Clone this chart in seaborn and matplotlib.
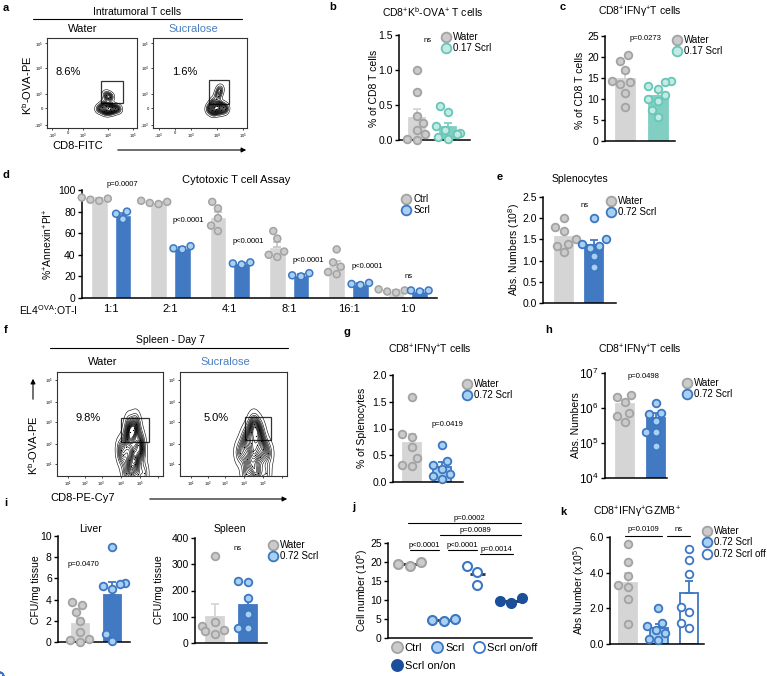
import warnings
import numpy as np
import pandas as pd
import seaborn as sns
import matplotlib.pyplot as plt
from matplotlib.lines import Line2D
from matplotlib.patches import Rectangle, FancyArrowPatch
from matplotlib.ticker import NullLocator

warnings.filterwarnings('ignore')

# ---------------- data ----------------
# b: CD8+Kb-OVA+ T cells (% of CD8 T cells)
b_groups = ['Water', '0.17 Scrl']
b_water = [1.0, 0.68, 0.35, 0.25, 0.15, 0.08, 0.02, 0.0]
b_scrl = [0.48, 0.40, 0.20, 0.15, 0.10, 0.08, 0.05, 0.02]

# c: CD8+IFNg+ T cells (% of CD8 T cells)
c_water = [20.5, 19.0, 17.0, 14.2, 14.0, 13.5, 11.5, 8.0]
c_scrl = [14.2, 14.0, 13.0, 12.5, 11.0, 10.0, 9.5, 7.5, 5.8]

# d: cytotoxic T cell assay
d_ratios = ['1:1', '2:1', '4:1', '8:1', '16:1', '1:0']
d_ctrl = [[93, 92, 91, 90], [90, 89, 88, 87], [89, 83, 74, 67, 62],
          [62, 55, 43, 40, 38], [45, 33, 29, 24, 22], [8, 7, 6, 5]]
d_scrl = [[80, 78, 73], [48, 46, 45], [33, 32, 31],
          [23, 21, 20], [14, 13, 12], [7, 7, 6]]
d_pvals = ['p=0.0007', 'p<0.0001', 'p<0.0001', 'p<0.0001', 'p<0.0001', 'ns']

# e: splenocytes (10^8)
e_groups = ['Water', '0.72 Scrl']
e_water = [2.0, 1.8, 1.7, 1.5, 1.4, 1.35, 1.2]
e_scrl = [2.0, 1.5, 1.4, 1.35, 1.3, 1.1, 0.85]

# g: % of splenocytes
g_water = [1.58, 0.9, 0.85, 0.65, 0.45, 0.32, 0.3]
g_scrl = [0.7, 0.4, 0.32, 0.25, 0.15, 0.12, 0.05]

# h: abs numbers (log axis)
h_water = [2.4e6, 2.1e6, 1.5e6, 7.2e5, 5.8e5, 4.1e5]
h_scrl = [1.4e6, 7.2e5, 6.6e5, 4.2e5, 2.1e5, 2.1e5, 8e4]

# i: CFU/mg tissue
i_liver_water = [3.8, 3.5, 2.8, 2.0, 0.9, 0.3, 0.2, 0.0]
i_liver_scrl = [9.0, 5.6, 5.5, 5.3, 5.0, 0.8, 0.1]
i_spleen_water = [330, 80, 65, 50, 45, 35]
i_spleen_scrl = [235, 232, 170, 110, 58, 58]

# j: cell number (10^5)
j_groups = ['Ctrl', 'Scrl', 'Scrl on/off', 'Scrl on/on']
j_vals = [[20.0, 19.5, 19.0], [5.0, 4.8, 4.6], [19.0, 17.5, 14.0], [10.5, 9.8, 9.3]]

# k: CD8+IFNg+GZMB+ abs number (x10^5)
k_groups = ['Water', '0.72 Scrl', '0.72 Scrl off']
k_water = [5.6, 4.6, 3.8, 3.3, 3.2, 2.5, 1.1]
k_scrl = [2.0, 1.2, 1.0, 0.8, 0.6, 0.3, 0.2]
k_off = [5.3, 4.7, 3.9, 2.1, 1.8, 1.2, 0.9]

# flow cytometry events (display units 0-100)
a_water_x = [58, 61, 63, 65, 66, 68, 69, 70, 72, 74, 76, 79, 64, 67, 71, 68, 66, 70]
a_water_y = [21, 23, 19, 24, 20, 22, 25, 21, 23, 20, 22, 21, 26, 18, 19, 33, 37, 35]
a_scrl_x = [60, 63, 65, 67, 68, 70, 72, 74, 77, 66, 70, 69, 71, 64]
a_scrl_y = [22, 20, 23, 21, 24, 22, 20, 23, 21, 19, 25, 36, 42, 28]
f_water_x = [62, 65, 68, 70, 72, 74, 76, 78, 80, 66, 70, 74, 78, 69, 73, 68, 72, 75, 65, 70, 76, 82, 60]
f_water_y = [20, 28, 15, 33, 24, 18, 30, 22, 26, 36, 10, 12, 35, 42, 46, 48, 44, 50, 3, 2, 2, 3, 25]
f_scrl_x = [56, 60, 63, 66, 68, 70, 72, 75, 78, 82, 62, 67, 71, 76, 66, 70, 74, 69, 73, 62, 70, 80]
f_scrl_y = [22, 28, 16, 32, 24, 20, 30, 18, 26, 22, 36, 10, 38, 34, 42, 47, 44, 50, 3, 2, 2, 3]

# ---------------- style ----------------
sns.set_style('ticks')
plt.rcParams.update({
    'axes.edgecolor': 'black', 'axes.linewidth': 1.1,
    'xtick.color': 'black', 'ytick.color': 'black',
    'text.color': 'black', 'axes.labelcolor': 'black',
    'ytick.major.size': 3, 'ytick.major.width': 1.0,
    'ytick.labelsize': 7.5, 'mathtext.default': 'regular',
})
plt.rcParams['font.family'] = ['Liberation Sans', 'DejaVu Sans']

GREY_BAR, GREY_PT, GREY_EDGE = '#d5d5d5', '#cbcbcb', '#a3a3a3'
BLUE_BAR, BLUE_PT, BLUE_EDGE = '#4279c3', '#a8d0f2', '#3d77c2'
TEAL_BAR, TEAL_PT, TEAL_EDGE = '#80cfc2', '#c3ebe4', '#68c6b7'
NAVY = '#1b4f9b'
SUCRA = '#4a7fc1'

W, H = 767, 676
fig = plt.figure(figsize=(W / 100, H / 100), dpi=100)


def px_axes(x0, y0, x1, y1):
    return fig.add_axes([x0 / W, 1 - y1 / H, (x1 - x0) / W, (y1 - y0) / H])


def ftext(x, y, s, size=7.5, **kw):
    kw.setdefault('ha', 'center')
    kw.setdefault('va', 'center')
    fig.text(x / W, 1 - y / H, s, fontsize=size, **kw)


def fline(x0, x1, y, lw=0.8):
    fig.add_artist(Line2D([x0 / W, x1 / W], [1 - y / H] * 2, transform=fig.transFigure,
                          color='black', lw=lw))


def farrow(x0, y0, x1, y1):
    fig.add_artist(FancyArrowPatch((x0 / W, 1 - y0 / H), (x1 / W, 1 - y1 / H),
                                   transform=fig.transFigure, arrowstyle='-|>',
                                   mutation_scale=7, lw=0.8, color='black'))


def legend_at(ax, labels, fills, edges, x, y, ncol=1, ms=7, fs=7, ls=0.15, cs=0.5):
    hs = [Line2D([], [], ls='none', marker='o', ms=ms, mfc=f, mec=e, mew=1.3)
          for f, e in zip(fills, edges)]
    return ax.legend(hs, labels, loc='upper left', bbox_to_anchor=(x / W, 1 - y / H),
                     bbox_transform=fig.transFigure, frameon=False, borderpad=0,
                     borderaxespad=0, handlelength=0.9, handletextpad=0.25,
                     labelspacing=ls, columnspacing=cs, fontsize=fs, ncol=ncol)


def style_axes(ax, ylim, yticks, labels=None):
    ax.set_ylim(ylim)
    ax.set_yticks(yticks)
    if labels is not None:
        ax.set_yticklabels(labels)
    ax.set_xlabel('')
    ax.set_ylabel('')
    sns.despine(ax=ax)
    ax.tick_params(axis='y', length=3, width=1, pad=1.5, labelsize=7.5)


def bar_panel(box, c0, step, bw, groups, vals, bar_cols, fills, edges,
              ylim, yticks, labels=None, log=False, bar_edges=None, size=5.5):
    # bar = mean, error bar = SEM (upper only), dots = individual values
    ax = px_axes(*box)
    x0, y0, x1, y1 = box
    df = pd.DataFrame({'g': np.repeat(groups, [len(v) for v in vals]),
                       'v': np.concatenate(vals)})
    sns.barplot(data=df, x='g', y='v', hue='g', order=groups, hue_order=groups,
                palette=dict(zip(groups, bar_cols)), errorbar=None, width=bw / step,
                legend=False, saturation=1, ax=ax)
    bar_edges = bar_edges or bar_cols
    for p, ec in zip(ax.patches, bar_edges):
        p.set_edgecolor(ec)
        p.set_linewidth(1.3)
    if log:
        ax.set_yscale('log')
        ax.yaxis.set_minor_locator(NullLocator())
    for i, v in enumerate(vals):
        sem = np.std(v, ddof=1) / np.sqrt(len(v))
        ax.errorbar(i, np.mean(v), yerr=[[0], [sem]], fmt='none', ecolor=bar_edges[i],
                    elinewidth=1.3, capsize=3, capthick=1.3, zorder=1.5)
    for g, v, f, e in zip(groups, vals, fills, edges):
        sns.swarmplot(x=[g] * len(v), y=v, order=groups, color=f, edgecolor=e,
                      linewidth=1.3, size=size, ax=ax, zorder=3)
    for c in ax.collections:
        c.set_clip_on(False)
    ax.set_xlim(-(c0 - x0) / step, (x1 - c0) / step)
    ax.set_xticks([])
    style_axes(ax, ylim, yticks, labels)
    return ax


def flow_panel(box, xs, ys, gate, pct, pct_xy, xt, xtl, yt, ytl):
    ax = px_axes(*box)
    sns.kdeplot(x=xs, y=ys, levels=18, thresh=0.02, color='black',
                linewidths=0.4, bw_adjust=0.8, ax=ax)
    ax.scatter(xs, ys, s=0.8, color='black', lw=0)
    gx0, gy0, gx1, gy1 = gate
    ax.add_patch(Rectangle((gx0, gy0), gx1 - gx0, gy1 - gy0, fill=False, lw=0.9,
                           ec='#333333'))
    ax.text(pct_xy[0], pct_xy[1], pct, fontsize=8, ha='center', va='center')
    ax.set_xlim(0, 100)
    ax.set_ylim(0, 100)
    ax.set_xticks(xt)
    ax.set_xticklabels(xtl)
    ax.set_yticks(yt)
    ax.set_yticklabels(ytl)
    ax.set_xlabel('')
    ax.set_ylabel('')
    ax.tick_params(length=1.5, width=0.5, labelsize=3, pad=1)
    for s in ax.spines.values():
        s.set_linewidth(0.8)
        s.set_color('#333333')
    return ax


# ---------------- a: flow, intratumoral ----------------
ftext(6, 8, 'a', 8, weight='bold')
ftext(137, 12, 'Intratumoral T cells', 7.5)
fline(33, 242, 19)
ftext(83, 29, 'Water', 8)
ftext(193, 29, 'Sucralose', 8, color=SUCRA)
a_xt = [6, 23, 40, 68, 96]
a_xtl = ['-10$^{3}$', '0', '10$^{3}$', '10$^{4}$', '10$^{5}$']
a_yt = [3, 22, 38, 67, 94]
a_ytl = ['-10$^{3}$', '0', '10$^{3}$', '10$^{4}$', '10$^{5}$']
flow_panel((47, 38, 137, 128), a_water_x, a_water_y, (60, 28, 84, 52), '8.6%', (23, 62),
           a_xt, a_xtl, a_yt, a_ytl)
flow_panel((153, 38, 247, 128), a_scrl_x, a_scrl_y, (60, 27, 81, 53), '1.6%', (34, 62),
           a_xt, a_xtl, a_yt, a_ytl)
ftext(27, 85, 'K$^{b}$-OVA-PE', 8, rotation=90)
ftext(78, 146, 'CD8-FITC', 8)
farrow(115, 150, 249, 150)

# ---------------- b ----------------
ftext(333, 7, 'b', 8, weight='bold')
ftext(433, 12, 'CD8$^{+}$K$^{b}$-OVA$^{+}$ T cells', 7.5)
ax_b = bar_panel((399, 35, 470, 140), 417, 31, 16, b_groups, [b_water, b_scrl],
                 [GREY_BAR, TEAL_BAR], [GREY_PT, TEAL_PT], [GREY_EDGE, TEAL_EDGE],
                 (0, 1.5), [0, 0.5, 1.0, 1.5], ['0.0', '0.5', '1.0', '1.5'])
ftext(374, 88, '% of CD8 T cells', 7.5, rotation=90)
ftext(428, 40, 'ns', 5.5)
legend_at(ax_b, b_groups, [GREY_PT, TEAL_PT], [GREY_EDGE, TEAL_EDGE], 442, 32)

# ---------------- c ----------------
ftext(563, 7, 'c', 8, weight='bold')
ftext(640, 12, 'CD8$^{+}$IFNγ$^{+}$T cells', 7.5)
ax_c = bar_panel((605, 36, 675, 141), 625, 33, 19, b_groups, [c_water, c_scrl],
                 [GREY_BAR, TEAL_BAR], [GREY_PT, TEAL_PT], [GREY_EDGE, TEAL_EDGE],
                 (0, 25), [0, 5, 10, 15, 20, 25])
ftext(580, 90, '% of CD8 T cells', 7.5, rotation=90)
ftext(645, 39, 'p=0.0273', 5.5)
legend_at(ax_c, b_groups, [GREY_PT, TEAL_PT], [GREY_EDGE, TEAL_EDGE], 673, 35)

# ---------------- d ----------------
ftext(6, 175, 'd', 8, weight='bold')
ftext(236, 180, 'Cytotoxic T cell Assay', 8)
ax_d = px_axes(82, 190, 437, 298)
df_d = pd.DataFrame({
    'ratio': np.concatenate([[r] * (len(c) + len(s)) for r, c, s in zip(d_ratios, d_ctrl, d_scrl)]),
    'grp': np.concatenate([['Ctrl'] * len(c) + ['Scrl'] * len(s) for c, s in zip(d_ctrl, d_scrl)]),
    'v': np.concatenate([c + s for c, s in zip(d_ctrl, d_scrl)]),
})
sns.barplot(data=df_d, x='ratio', y='v', hue='grp', order=d_ratios, hue_order=['Ctrl', 'Scrl'],
            palette={'Ctrl': GREY_BAR, 'Scrl': BLUE_BAR}, errorbar=None, width=0.8, gap=0.3,
            saturation=1, legend=False, ax=ax_d)
for i, (cv, sv) in enumerate(zip(d_ctrl, d_scrl)):
    for off, v, col in [(-0.2, cv, '#c4c4c4'), (0.2, sv, BLUE_BAR)]:
        sem = np.std(v, ddof=1) / np.sqrt(len(v))
        ax_d.errorbar(i + off, np.mean(v), yerr=[[0], [sem]], fmt='none', ecolor=col,
                      elinewidth=1.2, capsize=3, capthick=1.2, zorder=1.5)
for grp, f, e in [('Ctrl', GREY_PT, GREY_EDGE), ('Scrl', BLUE_PT, BLUE_EDGE)]:
    sns.swarmplot(data=df_d[df_d.grp == grp], x='ratio', y='v', hue='grp', order=d_ratios,
                  hue_order=['Ctrl', 'Scrl'], dodge=True, palette={'Ctrl': f, 'Scrl': f},
                  edgecolor=e, linewidth=1.1, size=5, legend=False, ax=ax_d, zorder=3)
for c in ax_d.collections:
    c.set_clip_on(False)
ax_d.set_xlim(-0.49, 5.49)
style_axes(ax_d, (0, 100), [0, 20, 40, 60, 80, 100])
ax_d.set_xticks(range(len(d_ratios)))
ax_d.set_xticklabels(d_ratios, fontsize=8)
ax_d.tick_params(axis='x', length=0, pad=4)
ftext(48, 244, '%$^{+}$Annexin$^{+}$PI$^{+}$', 7.5, rotation=90)
ftext(48, 310, 'EL4$^{OVA}$:OT-I', 7.5)
for (px, py), s in zip([(122, 185), (188, 220), (248, 242), (308, 260), (367, 267), (409, 277)], d_pvals):
    ftext(px, py, s, 5.5)
legend_at(ax_d, ['Ctrl', 'Scrl'], [GREY_PT, BLUE_PT], [GREY_EDGE, BLUE_EDGE], 402, 194)

# ---------------- e ----------------
ftext(500, 177, 'e', 8, weight='bold')
ftext(580, 179, 'Splenocytes', 7.5)
ax_e = bar_panel((543, 197, 616, 303), 564, 30, 18, e_groups, [e_water, e_scrl],
                 [GREY_BAR, BLUE_BAR], [GREY_PT, BLUE_PT], [GREY_EDGE, BLUE_EDGE],
                 (0, 2.5), [0, 0.5, 1.0, 1.5, 2.0, 2.5],
                 ['0.0', '0.5', '1.0', '1.5', '2.0', '2.5'])
ftext(514, 250, 'Abs. Numbers (10$^{8}$)', 7.5, rotation=90)
ftext(585, 205, 'ns', 5.5)
legend_at(ax_e, e_groups, [GREY_PT, BLUE_PT], [GREY_EDGE, BLUE_EDGE], 607, 196)

# ---------------- f: flow, spleen ----------------
ftext(6, 330, 'f', 8, weight='bold')
ftext(170, 340, 'Spleen - Day 7', 7.5)
fline(50, 288, 348)
ftext(103, 362, 'Water', 8)
ftext(225, 362, 'Sucralose', 8, color=SUCRA)
f_xt = [10, 26, 42, 60, 78, 95]
f_xtl = ['10$^{1}$', '10$^{2}$', '10$^{3}$', '10$^{4}$', '10$^{5}$', '']
f_yt = [12, 31, 52, 71, 92]
f_ytl = ['10$^{1}$', '10$^{2}$', '10$^{3}$', '10$^{4}$', '10$^{5}$']
flow_panel((57, 372, 163, 476), f_water_x, f_water_y, (60, 33, 87, 56), '9.8%', (29, 56),
           f_xt, f_xtl, f_yt, f_ytl)
flow_panel((180, 372, 287, 476), f_scrl_x, f_scrl_y, (61, 35, 85, 57), '5.0%', (34, 56),
           f_xt, f_xtl, f_yt, f_ytl)
ftext(33, 445, 'K$^{b}$-OVA-PE', 8, rotation=90)
farrow(33, 402, 33, 376)
ftext(83, 498, 'CD8-PE-Cy7', 8)
farrow(147, 499, 290, 499)

# ---------------- g ----------------
ftext(347, 332, 'g', 8, weight='bold')
ftext(430, 350, 'CD8$^{+}$IFNγ$^{+}$T cells', 7.5)
ax_g = bar_panel((393, 375, 463, 482), 412, 30, 18, e_groups, [g_water, g_scrl],
                 [GREY_BAR, BLUE_PT], [GREY_PT, BLUE_PT], [GREY_EDGE, BLUE_EDGE],
                 (0, 2.0), [0, 0.5, 1.0, 1.5, 2.0], ['0.0', '0.5', '1.0', '1.5', '2.0'],
                 bar_edges=[GREY_BAR, BLUE_EDGE])
ftext(362, 428, '% of Splenocytes', 7.5, rotation=90)
ftext(447, 425, 'p=0.0419', 5.5)
legend_at(ax_g, e_groups, [GREY_PT, BLUE_PT], [GREY_EDGE, BLUE_EDGE], 463, 379)

# ---------------- h ----------------
ftext(549, 330, 'h', 8, weight='bold')
ftext(640, 350, 'CD8$^{+}$IFNγ$^{+}$T cells', 7.5)
ax_h = bar_panel((605, 373, 667, 478), 625, 31, 18, e_groups, [h_water, h_scrl],
                 [GREY_BAR, BLUE_BAR], [GREY_PT, BLUE_PT], [GREY_EDGE, BLUE_EDGE],
                 (1e4, 1e7), [1e4, 1e5, 1e6, 1e7], log=True)
ax_h.tick_params(axis='y', labelsize=8.5)
ftext(576, 425, 'Abs. Numbers', 7.5, rotation=90)
ftext(643, 377, 'p=0.0498', 5.5)
legend_at(ax_h, e_groups, [GREY_PT, BLUE_PT], [GREY_EDGE, BLUE_EDGE], 683, 378)

# ---------------- i ----------------
ftext(6, 503, 'i', 8, weight='bold')
ftext(90, 529, 'Liver', 7.5)
ftext(230, 529, 'Spleen', 7.5)
ax_il = bar_panel((58, 536, 130, 642), 80, 32, 17, e_groups, [i_liver_water, i_liver_scrl],
                  [GREY_BAR, BLUE_BAR], [GREY_PT, BLUE_PT], [GREY_EDGE, BLUE_EDGE],
                  (0, 10), [0, 2, 4, 6, 8, 10])
ax_is = bar_panel((195, 538, 267, 643), 215, 33, 18, e_groups, [i_spleen_water, i_spleen_scrl],
                  [GREY_BAR, BLUE_BAR], [GREY_PT, BLUE_PT], [GREY_EDGE, BLUE_EDGE],
                  (0, 400), [0, 100, 200, 300, 400])
ftext(36, 590, 'CFU/mg tissue', 7.5, rotation=90)
ftext(159, 590, 'CFU/mg tissue', 7.5, rotation=90)
ftext(83, 564, 'p=0.0470', 5.5)
ftext(238, 549, 'ns', 5.5)
legend_at(ax_is, e_groups, [GREY_PT, BLUE_PT], [GREY_EDGE, BLUE_EDGE], 269, 540)

# ---------------- j ----------------
ftext(354, 507, 'j', 8, weight='bold')
ax_j = px_axes(388, 543, 532, 638)
j_fills = [GREY_PT, BLUE_PT, 'white', NAVY]
j_edges = [GREY_EDGE, BLUE_EDGE, BLUE_EDGE, NAVY]
for i, v in enumerate(j_vals):
    ax_j.hlines(np.mean(v), i - 0.22, i + 0.22, color='#333333', lw=2, zorder=1)
for g, v, f, e in zip(j_groups, j_vals, j_fills, j_edges):
    sns.swarmplot(x=[g] * len(v), y=v, order=j_groups, color=f, edgecolor=e,
                  linewidth=1.5, size=6.5, ax=ax_j, zorder=3)
ax_j.set_xlim(-0.65, 3.62)
ax_j.set_xticks([])
style_axes(ax_j, (0, 25), [0, 5, 10, 15, 20, 25])
for (xa, xb, yl) in [(-0.06, 3.3, 30.3), (0.9, 3.3, 27.1), (0.0, 0.85, 23.2),
                     (1.13, 2.0, 23.2), (2.08, 3.05, 22.0)]:
    ax_j.plot([xa, xb], [yl, yl], color='black', lw=0.8, clip_on=False)
for (tx, ty, s) in [(1.75, 30.6, 'p=0.0002'), (1.95, 27.4, 'p=0.0089'),
                    (0.42, 23.5, 'p<0.0001'), (1.56, 23.5, 'p<0.0001'),
                    (2.56, 22.3, 'p=0.0014')]:
    ax_j.text(tx, ty, s, fontsize=5.5, ha='center', va='bottom', clip_on=False)
ftext(362, 590, 'Cell number (10$^{5}$)', 7.5, rotation=90)
leg1 = legend_at(ax_j, ['Ctrl', 'Scrl', 'Scrl on/off'], j_fills[:3], j_edges[:3],
                 392, 643, ncol=3, ms=8, fs=8, cs=0.9)
ax_j.add_artist(leg1)
legend_at(ax_j, ['Scrl on/on'], j_fills[3:], j_edges[3:], 392, 661, ms=8, fs=8)

# ---------------- k ----------------
ftext(563, 512, 'k', 8, weight='bold')
ftext(637, 512, 'CD8$^{+}$IFNγ$^{+}$GZMB$^{+}$', 7.5)
ax_k = bar_panel((610, 537, 704, 644), 628, 30.5, 18, k_groups, [k_water, k_scrl, k_off],
                 [GREY_BAR, BLUE_PT, 'white'], [GREY_PT, BLUE_PT, 'white'],
                 [GREY_EDGE, BLUE_EDGE, BLUE_EDGE], (0, 6), [0, 2, 4, 6],
                 ['0.0', '2.0', '4.0', '6.0'], bar_edges=[GREY_BAR, BLUE_EDGE, BLUE_EDGE])
for (xa, xb) in [(-0.1, 1.1), (1.28, 2.03)]:
    ax_k.plot([xa, xb], [6.08, 6.08], color='black', lw=0.8, clip_on=False)
for (tx, s) in [(0.5, 'p=0.0109'), (1.65, 'ns')]:
    ax_k.text(tx, 6.2, s, fontsize=5.5, ha='center', va='bottom', clip_on=False)
ftext(579, 590, 'Abs Number (x10$^{5}$)', 7.5, rotation=90)
legend_at(ax_k, k_groups, [GREY_PT, BLUE_PT, 'white'], [GREY_EDGE, BLUE_EDGE, BLUE_EDGE],
          703, 526)

fig.savefig('out.png', dpi=100)
